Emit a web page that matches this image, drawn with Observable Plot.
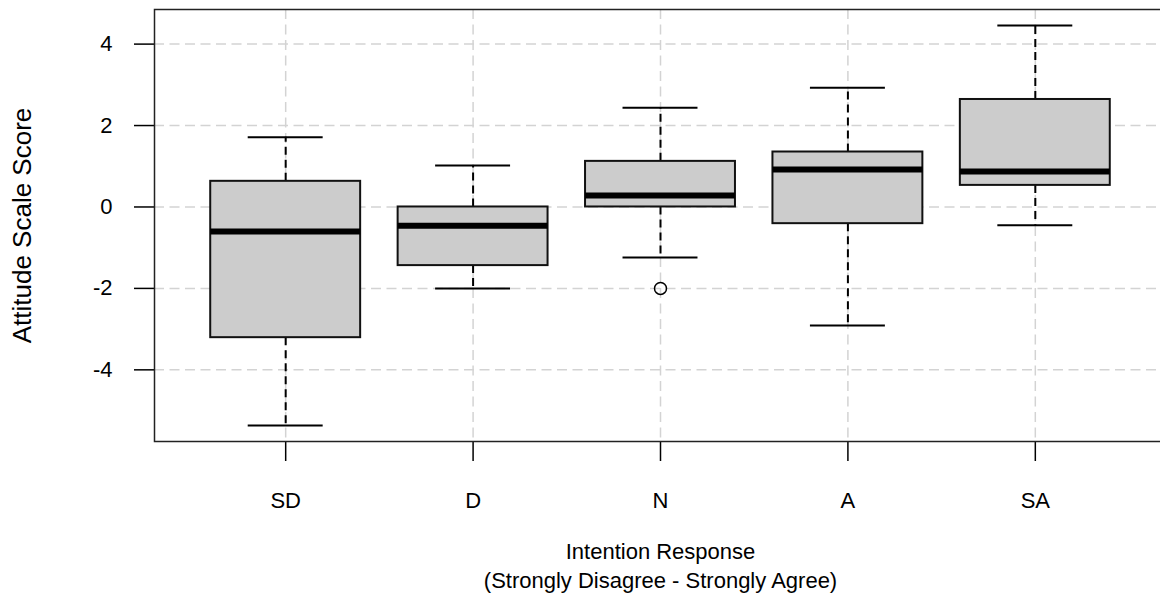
<!DOCTYPE html>
<html>
<head>
<meta charset="utf-8">
<script src="https://cdn.jsdelivr.net/npm/d3@7"></script>
<script src="https://cdn.jsdelivr.net/npm/@observablehq/plot@0.6"></script>
<style>
  html, body { margin: 0; padding: 0; background: #fff; overflow: hidden; }
  svg { max-width: none !important; }
</style>
</head>
<body>
<div id="chart"></div>
<script>
// Attitude scale score by intention response (box-and-whisker summary)
const categories  = ["SD", "D", "N", "A", "SA"];
const whiskerLow  = [-5.37, -2.00, -1.24, -2.91, -0.45];
const lowerQuart  = [-3.21, -1.44,  0.00, -0.41,  0.53];
const medians     = [-0.60, -0.46,  0.28,  0.92,  0.87];
const upperQuart  = [ 0.63,  0.00,  1.12,  1.35,  2.64];
const whiskerHigh = [ 1.71,  1.02,  2.44,  2.93,  4.46];
const outlierCat  = ["N"];
const outlierVal  = [-2.00];
const yTicks      = [-4, -2, 0, 2, 4];

const boxes = categories.map((c, k) => ({
  i: k + 1, cat: c,
  lo: whiskerLow[k], q1: lowerQuart[k], med: medians[k],
  q3: upperQuart[k], hi: whiskerHigh[k]
}));
const outliers = outlierCat.map((c, k) => ({i: categories.indexOf(c) + 1, value: outlierVal[k]}));

const boxHalf = 0.4, capHalf = 0.2;
const fontSize = 22;

const chart = Plot.plot({
  width: 1166,
  height: 599,
  marginLeft: 154,
  marginRight: 0,
  marginTop: 9,
  marginBottom: 158,
  style: {fontFamily: "'Liberation Sans', Arial, sans-serif", fontSize: fontSize + "px", color: "#000", background: "#fff"},
  x: {domain: [0.3, 5.7], axis: null},
  y: {domain: [-5.76, 4.85], axis: null},
  marks: [
    Plot.gridY(yTicks, {stroke: "#d3d3d3", strokeOpacity: 1, strokeWidth: 1.5, strokeDasharray: "10,5.5"}),
    Plot.gridX(boxes.map(d => d.i), {stroke: "#d3d3d3", strokeOpacity: 1, strokeWidth: 1.5, strokeDasharray: "10,5.5"}),
    // whiskers
    Plot.ruleX(boxes, {x: "i", y1: "q3", y2: "hi", stroke: "#000", strokeWidth: 2, strokeDasharray: "8,5"}),
    Plot.ruleX(boxes, {x: "i", y1: "q1", y2: "lo", stroke: "#000", strokeWidth: 2, strokeDasharray: "8,5"}),
    // whisker caps
    Plot.ruleY(boxes, {y: "hi", x1: d => d.i - capHalf, x2: d => d.i + capHalf, stroke: "#000", strokeWidth: 2}),
    Plot.ruleY(boxes, {y: "lo", x1: d => d.i - capHalf, x2: d => d.i + capHalf, stroke: "#000", strokeWidth: 2}),
    // boxes
    Plot.rect(boxes, {x1: d => d.i - boxHalf, x2: d => d.i + boxHalf, y1: "q1", y2: "q3", fill: "#cccccc", stroke: "#111", strokeWidth: 2}),
    // medians
    Plot.ruleY(boxes, {y: "med", x1: d => d.i - boxHalf, x2: d => d.i + boxHalf, stroke: "#000", strokeWidth: 6}),
    // outliers
    Plot.dot(outliers, {x: "i", y: "value", r: 6, fill: "none", stroke: "#000", strokeWidth: 1.5}),
    // axes
    Plot.axisY(yTicks, {tickSize: 20, tickPadding: 22, strokeWidth: 1.5, fontSize, tickFormat: d => String(d), label: null}),
    Plot.axisX(boxes.map(d => d.i), {tickSize: 20, tickPadding: 31, strokeWidth: 1.5, fontSize, tickFormat: i => categories[i - 1], label: null}),
    Plot.frame({stroke: "#222", strokeWidth: 1.5}),
    // axis titles
    Plot.text(["Attitude Scale Score"], {frameAnchor: "left", textAnchor: "middle", lineAnchor: "middle", dx: -132, rotate: -90, fontSize: 26, fill: "#000"}),
    Plot.text(["Intention Response\n(Strongly Disagree - Strongly Agree)"], {frameAnchor: "bottom", lineAnchor: "top", dy: 97, lineHeight: 1.32, fontSize, fill: "#000"})
  ]
});

document.getElementById("chart").appendChild(chart);
</script>
</body>
</html>
